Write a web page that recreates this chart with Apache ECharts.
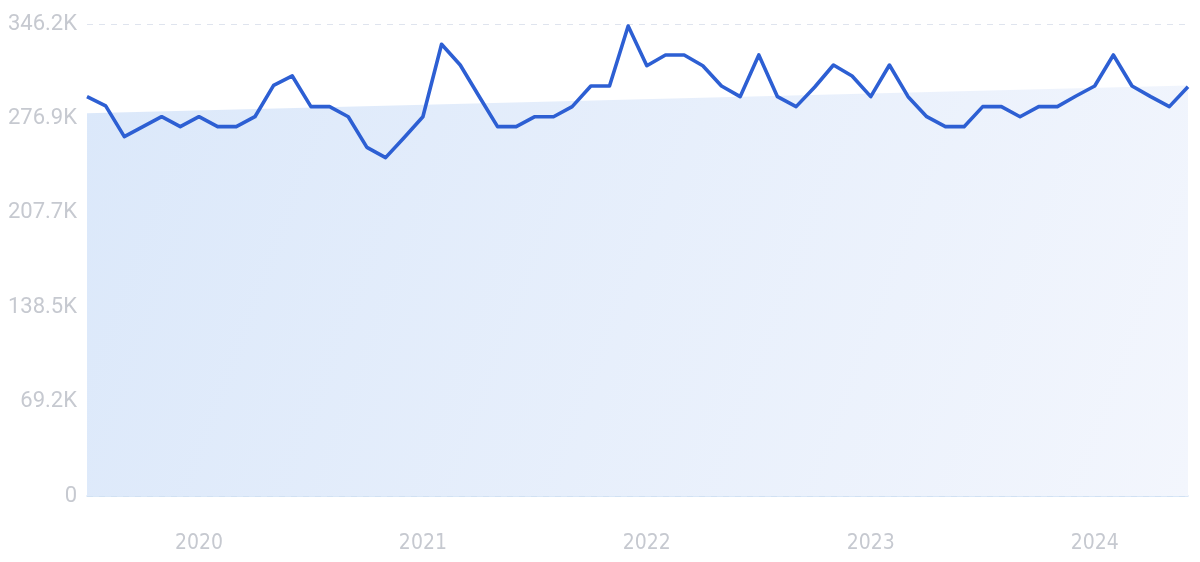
<!DOCTYPE html>
<html>
<head>
<meta charset="utf-8">
<script src="https://cdn.jsdelivr.net/npm/echarts@6/dist/echarts.min.js"></script>
<style>html,body{margin:0;padding:0;background:#fff;}#c{width:1200px;height:562px;}</style>
</head>
<body>
<div id="c"></div>
<script>
// Monthly categories Jul 2019 – Jun 2024
const months = [
  '2019-07','2019-08','2019-09','2019-10','2019-11','2019-12',
  '2020-01','2020-02','2020-03','2020-04','2020-05','2020-06','2020-07','2020-08','2020-09','2020-10','2020-11','2020-12',
  '2021-01','2021-02','2021-03','2021-04','2021-05','2021-06','2021-07','2021-08','2021-09','2021-10','2021-11','2021-12',
  '2022-01','2022-02','2022-03','2022-04','2022-05','2022-06','2022-07','2022-08','2022-09','2022-10','2022-11','2022-12',
  '2023-01','2023-02','2023-03','2023-04','2023-05','2023-06','2023-07','2023-08','2023-09','2023-10','2023-11','2023-12',
  '2024-01','2024-02','2024-03','2024-04','2024-05','2024-06'
];
const values = [
  292900, 286100, 263600, 270900, 278200, 270900,
  278200, 270900, 270900, 278200, 301200, 308100, 285600, 285600, 278200, 255700, 248200, 263000,
  278200, 331300, 316100, 293400, 270900, 270900, 278200, 278200, 285600, 300700, 300700, 344700,
  315600, 323500, 323500, 315600, 300700, 292900, 323500, 292900, 285600, 300000, 316100, 308100,
  292900, 316100, 292900, 278200, 270900, 270900, 285600, 285600, 278200, 285600, 285600, 293400,
  300700, 323500, 300700, 292900, 285600, 300200
];
const trendStart = 280700;
const trendEnd = 301000;
const yTicks = ['0', '69.2K', '138.5K', '207.7K', '276.9K', '346.2K'];
const yMax = 346200;
const yStep = 69240;

const trend = months.map((m, i) => i === 0 ? trendStart : (i === months.length - 1 ? trendEnd : null));

const chart = echarts.init(document.getElementById('c'), null, {renderer: 'canvas'});
chart.setOption({
  animation: false,
  grid: {left: 87, right: 12, top: 24, bottom: 66},
  xAxis: {
    type: 'category',
    data: months,
    boundaryGap: false,
    axisLine: {show: true, lineStyle: {color: '#cddff5', width: 1.5}},
    axisTick: {show: false},
    axisLabel: {
      color: '#c6c9d0', fontSize: 21, fontFamily: "'Liberation Sans Narrow', 'DejaVu Sans Condensed', Roboto", margin: 37,
      interval: (i, v) => v.endsWith('-01'),
      formatter: v => v.slice(0, 4)
    },
    splitLine: {show: false}
  },
  yAxis: {
    type: 'value',
    min: 0, max: yMax, interval: yStep,
    axisLine: {show: false},
    axisTick: {show: false},
    axisLabel: {
      color: '#c6c9d0', fontSize: 22, fontFamily: "Roboto", margin: 10,
      formatter: (v) => yTicks[Math.round(v / yStep)]
    },
    splitLine: {show: true, lineStyle: {color: '#dfe4ee', type: [6, 6], width: 1}}
  },
  series: [
    {
      type: 'line',
      data: trend,
      connectNulls: true,
      symbol: 'none',
      lineStyle: {width: 0},
      areaStyle: {
        opacity: 1,
        color: new echarts.graphic.LinearGradient(0, 0, 1, 1, [
          {offset: 0, color: '#dbe8fa'},
          {offset: 1, color: '#f3f6fd'}
        ])
      },
      silent: true,
      z: 1
    },
    {
      type: 'line',
      data: values,
      symbol: 'none',
      lineStyle: {color: '#2d5fd3', width: 3.6, join: 'round'},
      z: 3
    }
  ]
});
</script>
</body>
</html>
